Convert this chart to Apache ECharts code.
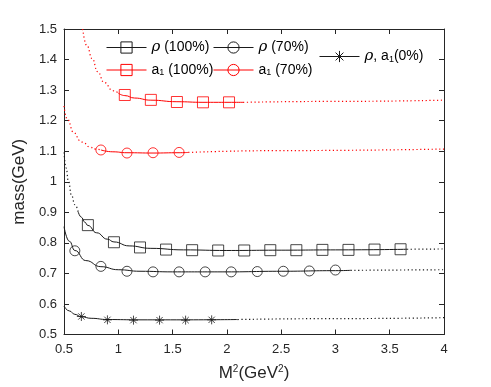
<!DOCTYPE html>
<html>
<head>
<meta charset="utf-8">
<script src="https://cdn.jsdelivr.net/npm/echarts@6/dist/echarts.min.js"></script>
<style>
  html, body { margin: 0; padding: 0; background: #fff; }
  #chart { width: 491px; height: 387px; }
</style>
</head>
<body>
<div id="chart"></div>
<script>
// axis ticks
var xTicks = [0.5, 1, 1.5, 2, 2.5, 3, 3.5, 4];
var yTicks = [0.5, 0.6, 0.7, 0.8, 0.9, 1, 1.1, 1.2, 1.3, 1.4, 1.5];

// markers (M^2, mass)
var rho100X = [0.72, 0.96, 1.2, 1.44, 1.68, 1.92, 2.16, 2.4, 2.64, 2.88, 3.12, 3.36, 3.6];
var rho100Y = [0.858, 0.802, 0.785, 0.778, 0.776, 0.775, 0.775, 0.776, 0.776, 0.777, 0.777, 0.778, 0.779];
var rho70X = [0.6, 0.84, 1.08, 1.32, 1.56, 1.8, 2.04, 2.28, 2.52, 2.76, 3.0];
var rho70Y = [0.774, 0.723, 0.707, 0.705, 0.705, 0.705, 0.705, 0.706, 0.707, 0.708, 0.711];
var a100X = [1.06, 1.3, 1.54, 1.78, 2.02];
var a100Y = [1.284, 1.268, 1.261, 1.26, 1.26];
var a70X = [0.84, 1.08, 1.32, 1.56];
var a70Y = [1.104, 1.094, 1.095, 1.096];
var zeroX = [0.66, 0.9, 1.14, 1.38, 1.62, 1.86];
var zeroY = [0.559, 0.548, 0.547, 0.547, 0.547, 0.548];

// fitted curves: solid part and dotted extensions
var rho100Fit = [[0.63, 0.902], [0.66, 0.884], [0.69, 0.868], [0.72, 0.857], [0.8, 0.833], [0.9, 0.812], [0.96, 0.803], [1.1, 0.79], [1.3, 0.782], [1.6, 0.777], [2.0, 0.775], [2.5, 0.776], [3.0, 0.777], [3.66, 0.779]];
var rho100DotL = [[0.5, 1.096], [0.52, 1.045], [0.54, 1.003], [0.57, 0.955], [0.6, 0.925], [0.63, 0.902]];
var rho100DotR = [[3.66, 0.779], [4, 0.78]];
var rho70Fit = [[0.5, 0.853], [0.55, 0.805], [0.6, 0.775], [0.7, 0.742], [0.84, 0.722], [1.0, 0.712], [1.2, 0.707], [1.5, 0.705], [2.0, 0.705], [2.5, 0.707], [3.0, 0.709], [3.14, 0.71]];
var rho70DotR = [[3.14, 0.71], [4, 0.712]];
var a100Fit = [[1.0, 1.29], [1.06, 1.282], [1.15, 1.274], [1.3, 1.267], [1.54, 1.262], [1.78, 1.26], [2.02, 1.26], [2.15, 1.26]];
var a100DotL = [[0.672, 1.5], [0.71, 1.446], [0.76, 1.403], [0.81, 1.36], [0.87, 1.325], [0.95, 1.298], [1.0, 1.29]];
var a100DotR = [[2.15, 1.26], [3, 1.263], [4, 1.267]];
var a70Fit = [[0.84, 1.104], [0.95, 1.098], [1.08, 1.095], [1.32, 1.094], [1.56, 1.095], [1.645, 1.096]];
var a70DotL = [[0.5, 1.248], [0.53, 1.205], [0.59, 1.161], [0.65, 1.134], [0.68, 1.127], [0.74, 1.113], [0.79, 1.107], [0.84, 1.104]];
var a70DotR = [[1.645, 1.096], [2.5, 1.102], [4, 1.107]];
var zeroFit = [[0.5, 0.593], [0.55, 0.577], [0.6, 0.566], [0.66, 0.558], [0.75, 0.553], [0.9, 0.549], [1.2, 0.548], [1.6, 0.548], [2.1, 0.549]];
var zeroDotR = [[2.1, 0.549], [3, 0.552], [4, 0.555]];

var BLACK = '#1a1a1a';
var RED = '#ff0000';
var AX = '#262626';
var FONT = 'Liberation Sans, Arial, sans-serif';
var STAR = 'path://M5,0L5,10M0,5L10,5M1.5,1.5L8.5,8.5M1.5,8.5L8.5,1.5';

function zip(xs, ys) {
    return xs.map(function (x, i) { return [x, ys[i]]; });
}

function fit(name, data, color, symbol) {
    return {
        name: name, type: 'line', data: data, smooth: true, smoothMonotone: 'x',
        symbol: symbol, showSymbol: false, silent: true,
        lineStyle: { color: color, width: 1 },
        itemStyle: { color: 'rgba(0,0,0,0)', borderColor: color, borderWidth: 1 },
        z: 2
    };
}
function dots(data, color) {
    return {
        type: 'line', data: data, smooth: true, smoothMonotone: 'x', showSymbol: false, silent: true,
        lineStyle: { color: color, width: 1.2, type: [1.2, 2.6] }, z: 1
    };
}
function marks(data, color, symbol, size) {
    return {
        type: 'scatter', data: data, symbol: symbol, symbolSize: size, silent: true,
        itemStyle: { color: 'rgba(0,0,0,0)', borderColor: color, borderWidth: 1 }, z: 3
    };
}

var labels = {
    rho100: '{r|ρ} (100%)',
    rho70: '{r|ρ} (70%)',
    a100: 'a{s|1} (100%)',
    a70: 'a{s|1} (70%)',
    zero: '{r|ρ}, a{s|1}(0%)'
};
var rich = {
    r: { fontFamily: 'DejaVu Serif', fontStyle: 'italic', fontSize: 15, color: '#000' },
    s: { fontSize: 9, color: '#000', verticalAlign: 'bottom', padding: [6, 0, 0, 0] }
};
function leg(name, left, top, color) {
    return {
        data: [name], left: left, top: top, padding: 0, itemWidth: 40, itemHeight: 14,
        selectedMode: false,
        itemStyle: { color: 'rgba(0,0,0,0)', borderColor: color, borderWidth: 1 },
        lineStyle: { color: color, width: 1 },
        formatter: function (n) { return labels[n]; },
        textStyle: { fontFamily: FONT, fontSize: 14, color: '#000', rich: rich }
    };
}

var axisCommon = {
    type: 'value',
    axisLine: { show: true, onZero: false, lineStyle: { color: AX, width: 1 } },
    axisTick: { show: true, inside: true, length: 5, lineStyle: { color: AX } },
    splitLine: { show: false }
};

var chart = echarts.init(document.getElementById('chart'));
chart.setOption({
    animation: false,
    backgroundColor: '#fff',
    grid: { left: 64, top: 29, right: 47, bottom: 50, containLabel: false },
    legend: [
        leg('rho100', 106, 40, BLACK),
        leg('a100', 106, 63, RED),
        leg('rho70', 213, 40, BLACK),
        leg('a70', 213, 63, RED),
        leg('zero', 319, 49, BLACK)
    ],
    xAxis: [
        Object.assign({}, axisCommon, {
            min: xTicks[0], max: xTicks[xTicks.length - 1], interval: 0.5,
            axisLabel: { color: AX, fontFamily: FONT, fontSize: 13, margin: 8 },
            name: 'M{sup|2}(GeV{sup|2})', nameLocation: 'middle', nameGap: 30,
            nameTextStyle: {
                color: AX, fontFamily: FONT, fontSize: 17,
                rich: { sup: { fontSize: 10, color: AX, verticalAlign: 'top', padding: [0, 0, 8, 0] } }
            }
        }),
        Object.assign({}, axisCommon, {
            position: 'top', min: xTicks[0], max: xTicks[xTicks.length - 1], interval: 0.5,
            axisLabel: { show: false }
        })
    ],
    yAxis: [
        Object.assign({}, axisCommon, {
            min: yTicks[0], max: yTicks[yTicks.length - 1], interval: 0.1,
            axisLabel: { color: AX, fontFamily: FONT, fontSize: 13, margin: 7 },
            name: 'mass(GeV)', nameLocation: 'middle', nameGap: 28,
            nameTextStyle: { color: AX, fontFamily: FONT, fontSize: 17 }
        }),
        Object.assign({}, axisCommon, {
            position: 'right', min: yTicks[0], max: yTicks[yTicks.length - 1], interval: 0.1,
            axisLabel: { show: false }
        })
    ],
    series: [
        fit('rho100', rho100Fit, BLACK, 'rect'),
        dots(rho100DotL, BLACK), dots(rho100DotR, BLACK),
        marks(zip(rho100X, rho100Y), BLACK, 'rect', 11),

        fit('rho70', rho70Fit, BLACK, 'circle'),
        dots(rho70DotR, BLACK),
        marks(zip(rho70X, rho70Y), BLACK, 'circle', 10),

        fit('a100', a100Fit, RED, 'rect'),
        dots(a100DotL, RED), dots(a100DotR, RED),
        marks(zip(a100X, a100Y), RED, 'rect', 11),

        fit('a70', a70Fit, RED, 'circle'),
        dots(a70DotL, RED), dots(a70DotR, RED),
        marks(zip(a70X, a70Y), RED, 'circle', 10),

        fit('zero', zeroFit, BLACK, STAR),
        dots(zeroDotR, BLACK),
        marks(zip(zeroX, zeroY), BLACK, STAR, 9)
    ]
});
</script>
</body>
</html>
